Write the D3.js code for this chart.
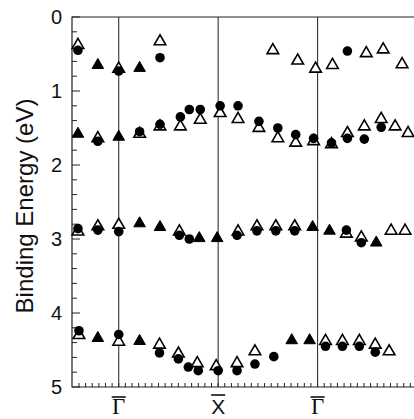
<!DOCTYPE html>
<html>
<head>
<meta charset="utf-8">
<script src="https://cdn.jsdelivr.net/npm/d3@7"></script>
<style>
  body { margin: 0; padding: 0; background: #fff; }
  svg { display: block; }
  .tick-label { font-family: "Liberation Sans", Arial, sans-serif; font-size: 20px; fill: #111; }
  .title { font-family: "Liberation Sans", Arial, sans-serif; font-size: 24px; fill: #111; }
</style>
</head>
<body>
<script>
// k-path positions (Gamma = 0, X = 1, Gamma = 2) and binding energy (eV)
var circles = [
  [-0.41, 0.45], [0, 0.73], [0.415, 0.55], [2.3, 0.46],
  [-0.21, 1.68], [0.21, 1.55], [0.415, 1.45], [0.62, 1.35], [0.71, 1.25], [0.82, 1.25],
  [1.02, 1.20], [1.2, 1.20], [1.41, 1.41], [1.6, 1.50], [1.78, 1.59], [1.96, 1.64],
  [2.14, 1.70], [2.3, 1.64], [2.47, 1.65], [2.64, 1.49],
  [-0.41, 2.86], [-0.21, 2.88], [0, 2.90], [0.61, 2.95], [0.71, 3.0], [1.19, 2.95],
  [1.39, 2.89], [1.58, 2.89], [1.77, 2.89], [2.29, 2.88], [2.44, 3.05],
  [-0.40, 4.24], [0, 4.29], [0.41, 4.54], [0.6, 4.62], [0.70, 4.73], [0.80, 4.78],
  [1.0, 4.78], [1.19, 4.78], [1.37, 4.69], [1.56, 4.59], [2.08, 4.45], [2.25, 4.45],
  [2.42, 4.45], [2.58, 4.53]
];
var openTri = [
  [-0.41, 0.38], [0, 0.70], [0.415, 0.33], [1.55, 0.45], [1.8, 0.59], [1.98, 0.70],
  [2.15, 0.65], [2.49, 0.49], [2.66, 0.44], [2.85, 0.64],
  [-0.21, 1.64], [0.21, 1.58], [0.415, 1.48], [0.62, 1.48], [0.82, 1.39], [1.02, 1.30],
  [1.2, 1.38], [1.41, 1.50], [1.6, 1.64], [1.78, 1.70], [1.96, 1.68], [2.14, 1.72],
  [2.3, 1.57], [2.47, 1.48], [2.64, 1.38], [2.78, 1.48], [2.91, 1.57],
  [-0.41, 2.90], [-0.21, 2.83], [0, 2.81], [0.61, 2.90], [1.2, 2.90], [1.39, 2.83],
  [1.58, 2.83], [1.77, 2.83], [2.29, 2.93], [2.44, 2.98], [2.74, 2.89], [2.88, 2.89],
  [-0.40, 4.30], [0, 4.39], [0.41, 4.43], [0.6, 4.55], [0.79, 4.68], [0.98, 4.72],
  [1.19, 4.68], [1.37, 4.52], [2.08, 4.38], [2.25, 4.38], [2.42, 4.38], [2.58, 4.43],
  [2.72, 4.52]
];
var filledTri = [
  [-0.21, 0.65], [0.21, 0.69],
  [-0.41, 1.58], [0, 1.62],
  [0.21, 2.79], [0.415, 2.84], [0.81, 2.99], [0.99, 2.99], [1.95, 2.84], [2.12, 2.89], [2.59, 3.05],
  [-0.21, 4.34], [0.21, 4.38], [1.74, 4.37], [1.92, 4.37]
];
var yTicks = [0, 1, 2, 3, 4, 5];
var symPoints = [0, 1, 2];
var symLabels = ["\u0393", "X", "\u0393"];

var w = 414, h = 419;
var pLeft = 72, pTop = 17, pBottom = 387, pRight = 417;

var svg = d3.select("body").append("svg")
    .attr("width", w)
    .attr("height", h);

var x = d3.scaleLinear().domain([-0.47, 3.0]).range([pLeft, pRight]);
var y = d3.scaleLinear().domain([0, 5]).range([pTop, pBottom]);

// frame
svg.append("path")
    .attr("d", "M" + pRight + "," + pTop + "H" + pLeft + "V" + pBottom + "H" + pRight)
    .attr("fill", "none")
    .attr("stroke", "#222")
    .attr("stroke-width", 1.2);

// symmetry point lines
svg.selectAll(".sym")
    .data(symPoints)
    .enter().append("line")
    .attr("x1", function(d) { return x(d); })
    .attr("x2", function(d) { return x(d); })
    .attr("y1", pTop)
    .attr("y2", pBottom)
    .attr("stroke", "#333")
    .attr("stroke-width", 1.1);

// left ticks, inward
var yMinor = d3.range(0, 5.001, 0.2);
svg.selectAll(".ytick")
    .data(yMinor)
    .enter().append("line")
    .attr("x1", pLeft)
    .attr("x2", function(d) { return Math.abs(d - Math.round(d)) < 1e-6 ? pLeft + 8 : pLeft + 5; })
    .attr("y1", function(d) { return y(d); })
    .attr("y2", function(d) { return y(d); })
    .attr("stroke", "#222")
    .attr("stroke-width", 1);

svg.selectAll(".ylab")
    .data(yTicks)
    .enter().append("text")
    .attr("class", "tick-label")
    .attr("x", 62)
    .attr("y", function(d) { return y(d) + 7; })
    .attr("text-anchor", "end")
    .text(function(d) { return d; });

// bottom ticks, inward
var xMinor = d3.range(-7, 45).map(function(i) { return i / 15; })
    .filter(function(d) { return x(d) > pLeft + 2 && x(d) < w; });
svg.selectAll(".xtick")
    .data(xMinor)
    .enter().append("line")
    .attr("x1", function(d) { return x(d); })
    .attr("x2", function(d) { return x(d); })
    .attr("y1", pBottom)
    .attr("y2", pBottom - 4)
    .attr("stroke", "#222")
    .attr("stroke-width", 1);

// symmetry labels with overbars
svg.selectAll(".xlab")
    .data(symPoints)
    .enter().append("text")
    .attr("x", function(d) { return x(d); })
    .attr("y", 414)
    .attr("text-anchor", "middle")
    .attr("font-family", function(d, i) { return symLabels[i] === "X" ? "Liberation Sans, Arial, sans-serif" : "Liberation Serif, Times New Roman, serif"; })
    .attr("font-size", function(d, i) { return symLabels[i] === "X" ? 21 : 23; })
    .attr("fill", "#111")
    .text(function(d, i) { return symLabels[i]; });

svg.selectAll(".xbar")
    .data(symPoints)
    .enter().append("line")
    .attr("x1", function(d) { return x(d) - 7; })
    .attr("x2", function(d) { return x(d) + 7; })
    .attr("y1", function(d, i) { return symLabels[i] === "X" ? 395 : 397; })
    .attr("y2", function(d, i) { return symLabels[i] === "X" ? 395 : 397; })
    .attr("stroke", "#111")
    .attr("stroke-width", 1.6);

// axis title
svg.append("text")
    .attr("class", "title")
    .attr("transform", "translate(33,206) rotate(-90)")
    .attr("text-anchor", "middle")
    .text("Binding Energy (eV)");

// data: open triangles below the circles, filled triangles on top
var tri = d3.symbol().type(d3.symbolTriangle).size(58);

svg.selectAll(".otri")
    .data(openTri)
    .enter().append("path")
    .attr("d", tri)
    .attr("transform", function(d) { return "translate(" + x(d[0]) + "," + y(d[1]) + ")"; })
    .attr("fill", "#fff")
    .attr("stroke", "#000")
    .attr("stroke-width", 1.6);

svg.selectAll(".circ")
    .data(circles)
    .enter().append("circle")
    .attr("cx", function(d) { return x(d[0]); })
    .attr("cy", function(d) { return y(d[1]); })
    .attr("r", 4.8)
    .attr("fill", "#000");

svg.selectAll(".ftri")
    .data(filledTri)
    .enter().append("path")
    .attr("d", tri)
    .attr("transform", function(d) { return "translate(" + x(d[0]) + "," + y(d[1]) + ")"; })
    .attr("fill", "#000")
    .attr("stroke", "#000")
    .attr("stroke-width", 1);
</script>
</body>
</html>
